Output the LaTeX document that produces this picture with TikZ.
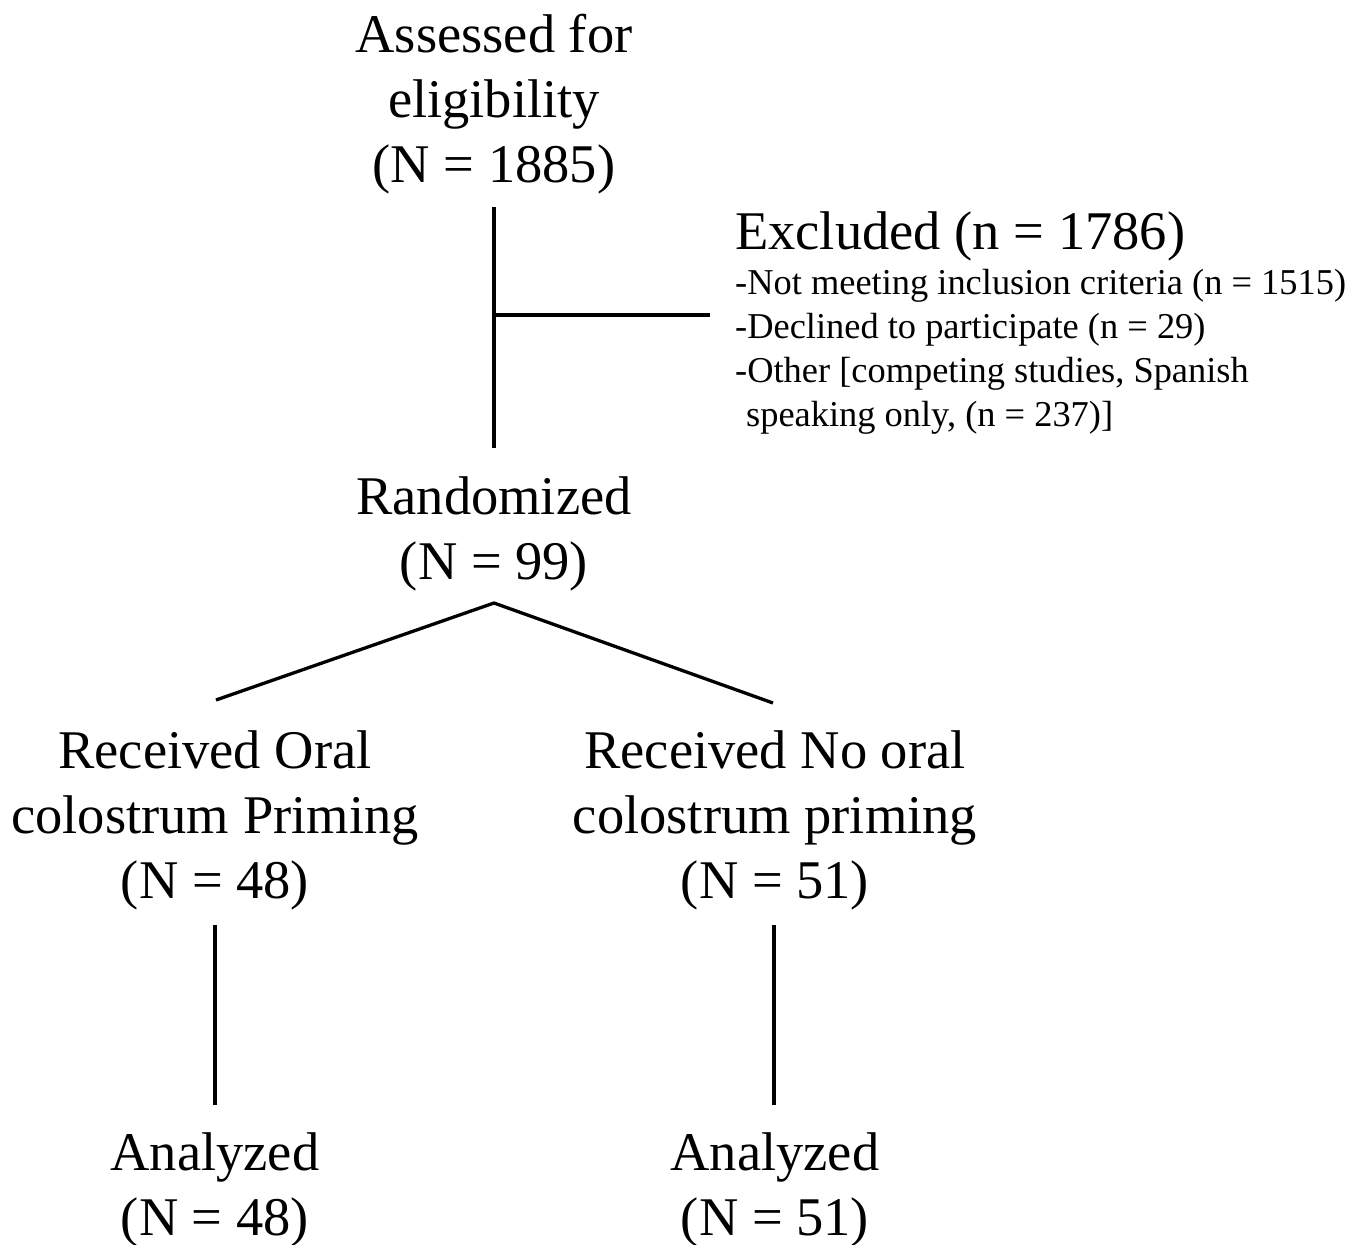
\documentclass[tikz,border=0pt]{standalone}
\usepackage{fontspec}
\setmainfont{Liberation Serif}
\begin{document}
\begin{tikzpicture}[x=1pt,y=-1pt,
  big/.style={font=\fontsize{54.5}{65}\selectfont, align=center, inner sep=0pt},
  small/.style={font=\fontsize{36.4}{44}\selectfont, align=left, inner sep=0pt},
  conn/.style={line width=3.3pt}]
\useasboundingbox[fill=white] (0,0) rectangle (1366,1245);
\node[big] (assess) at (494,104) {Assessed for\\eligibility\\(N = 1885)};
\node[big, anchor=base west] (exctitle) at (735,249) {Excluded (n = 1786)};
\node[small, anchor=north west] (exclist) at (735,269) {-Not meeting inclusion criteria (n = 1515)\\-Declined to participate (n = 29)\\-Other [competing studies, Spanish\\\hspace*{11pt}speaking only, (n = 237)]};
\node[big] (rand) at (494,534) {Randomized\\(N = 99)};
\node[big] (oral) at (215,820) {Received Oral\\colostrum Priming\\(N = 48)};
\node[big] (nooral) at (775,820) {Received No oral\\colostrum priming\\(N = 51)};
\node[big] (anal1) at (215,1190) {Analyzed\\(N = 48)};
\node[big] (anal2) at (775,1190) {Analyzed\\(N = 51)};
\coordinate (vtop) at (494,207);
\coordinate (vbot) at (494,448);
\coordinate (vjun) at (494,315);
\coordinate (exend) at (710,315);
\coordinate (split) at (494,603);
\coordinate (ltop) at (216,700);
\coordinate (rtop) at (773,703);
\coordinate (l1) at (215,925);
\coordinate (l2) at (215,1105);
\coordinate (r1) at (774,925);
\coordinate (r2) at (774,1105);
\draw[conn] (vtop) -- (vbot);
\draw[conn] (vjun) -- (exend);
\draw[conn] (ltop) -- (split) -- (rtop);
\draw[conn] (l1) -- (l2);
\draw[conn] (r1) -- (r2);
\end{tikzpicture}
\end{document}
